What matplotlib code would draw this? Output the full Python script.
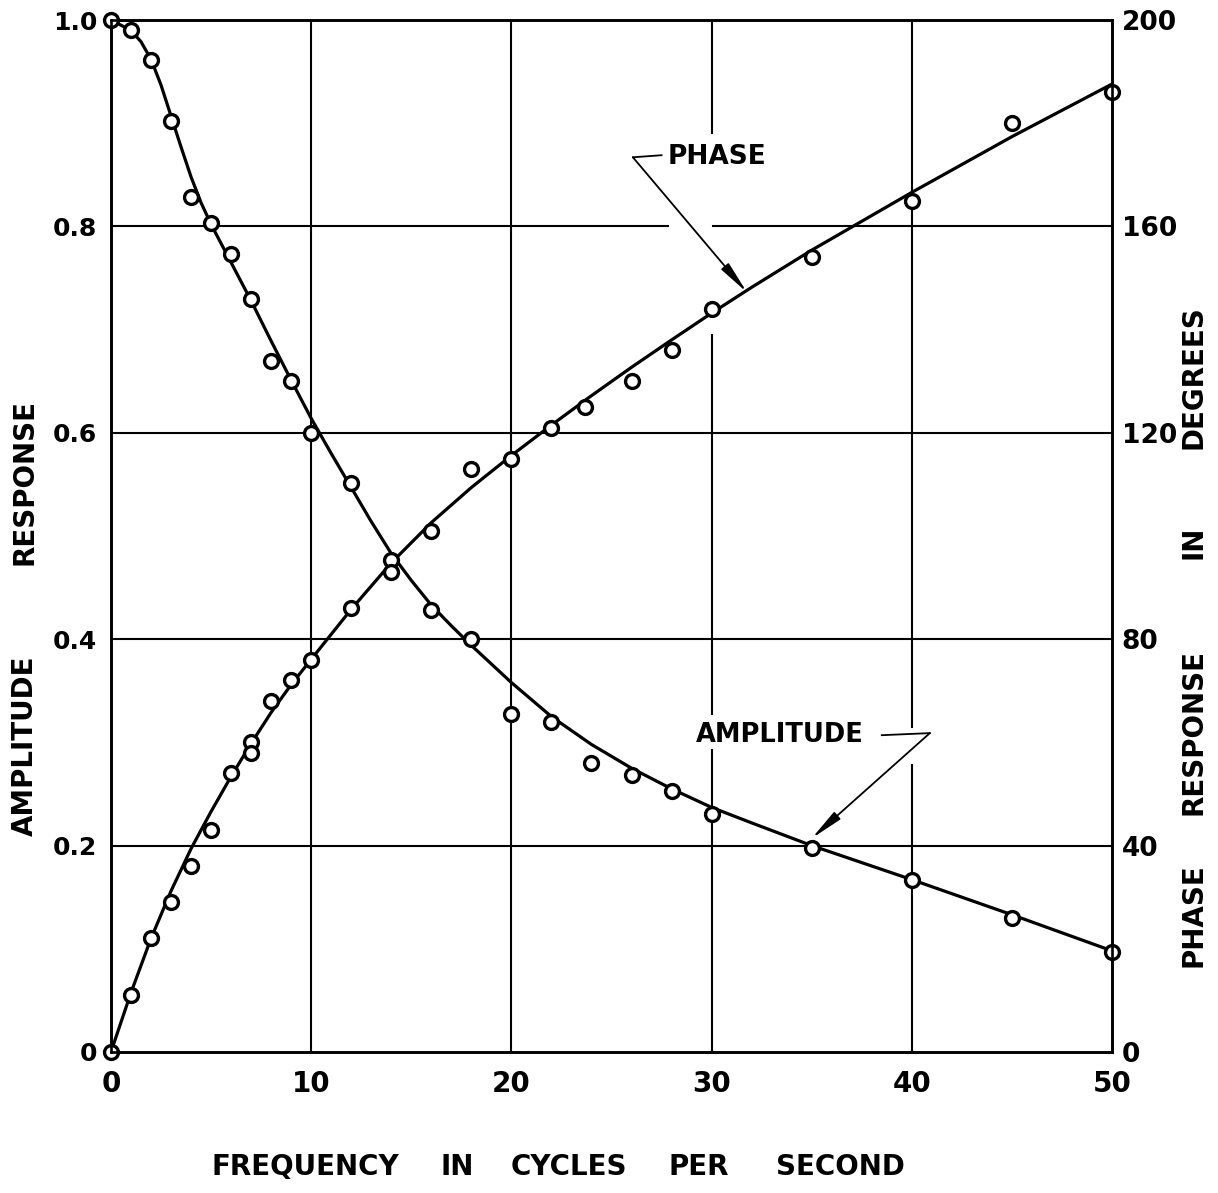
import numpy as np
import matplotlib.pyplot as plt

plt.rcParams.update({
    "font.family": "DejaVu Sans",
    "font.size": 18,
    "axes.linewidth": 1.9,
})

# measured points: amplitude response (fraction) and phase (degrees)
amp_freq = [0, 1, 2, 3, 4, 5, 6, 7, 8, 9, 10, 12, 14, 16, 18, 20, 22, 24, 26, 28, 30, 35, 40, 45, 50]
amp_vals = [1.0, 0.990, 0.961, 0.902, 0.829, 0.803, 0.773, 0.730, 0.670, 0.650, 0.600, 0.551,
            0.477, 0.428, 0.400, 0.328, 0.320, 0.280, 0.268, 0.253, 0.231, 0.198, 0.167, 0.130, 0.097]

phase_freq = [0, 1, 2, 3, 4, 5, 6, 7, 7, 8, 9, 10, 12, 14, 16, 18, 20, 22, 23.7, 26, 28, 30, 35, 40, 45, 50]
phase_vals = [0, 11, 22, 29, 36, 43, 54, 60, 58, 68, 72, 76, 86, 93, 101, 113, 115, 121, 125,
              130, 136, 144, 154, 165, 180, 186]

# faired curves drawn through the points
amp_curve_f = [0, 1, 1.5, 2, 2.5, 3, 3.5, 4, 4.5, 5, 6, 7, 8, 9, 10, 11, 12, 13, 14, 15, 16, 17,
               18, 20, 22, 24, 26, 28, 30, 32, 35, 40, 45, 50]
amp_curve = [1.0, 0.99, 0.979, 0.962, 0.937, 0.907, 0.877, 0.848, 0.823, 0.802, 0.765, 0.728,
             0.689, 0.651, 0.614, 0.580, 0.547, 0.514, 0.483, 0.457, 0.433, 0.413, 0.394, 0.358,
             0.325, 0.298, 0.275, 0.255, 0.237, 0.222, 0.200, 0.167, 0.133, 0.098]

phase_curve_f = [0, 1, 2, 3, 4, 5, 6, 7, 8, 9, 10, 12, 14, 16, 18, 20, 22, 24, 26, 28, 30, 32,
                 35, 40, 45, 50]
phase_curve = [0, 11.5, 22, 31.2, 39.4, 46.6, 53.4, 59.8, 65.8, 71.2, 76.1, 85.8, 94.8, 102.6,
               109.4, 115.6, 121.5, 127.2, 132.7, 138.0, 143.2, 148.2, 155.4, 166.6, 177.4, 187.6]

amp_ticks = [0, 0.2, 0.4, 0.6, 0.8, 1.0]
amp_ticklabels = ["0", "0.2", "0.4", "0.6", "0.8", "1.0"]
deg_ticks = [0, 40, 80, 120, 160, 200]
freq_ticks = [0, 10, 20, 30, 40, 50]

# widely spaced lettering: one word per text, positioned in figure pixels
W, H = 1218, 1193
left_words = [("AMPLITUDE", 746), ("RESPONSE", 482)]
right_words = [("PHASE", 915), ("RESPONSE", 732), ("IN", 542), ("DEGREES", 377)]
bottom_words = [("FREQUENCY", 305), ("IN", 457), ("CYCLES", 569), ("PER", 699), ("SECOND", 840)]

fig = plt.figure(figsize=(W / 100, H / 100), dpi=100)
ax = fig.add_axes([0.0911, 0.1182, 0.8219, 0.8650])
ax2 = ax.twinx()

ax.set_xlim(0, 50)
ax.set_ylim(0, 1.0)
ax2.set_ylim(0, 200)

# grid drawn by hand so it can break around the lettering
grid_kw = dict(color="black", lw=1.5, zorder=1)
vgrid = {10: [(0, 1)], 20: [(0, 1)],
         30: [(0, 0.293), (0.328, 0.695), (0.891, 1)],
         40: [(0, 0.278), (0.315, 1)]}
hgrid = {0.2: [(0, 50)], 0.4: [(0, 50)], 0.6: [(0, 50)],
         0.8: [(0, 27.8), (30.05, 50)]}
for xv, segs in vgrid.items():
    for a, b in segs:
        ax.plot([xv, xv], [a, b], **grid_kw)
for yv, segs in hgrid.items():
    for a, b in segs:
        ax.plot([a, b], [yv, yv], **grid_kw)

line_kw = dict(color="black", lw=2.3, zorder=3)
mark_kw = dict(ls="none", marker="o", ms=10, mfc="white", mec="black", mew=2.4, zorder=4,
               clip_on=False)

ax.plot(amp_curve_f, amp_curve, **line_kw)
ax.plot(phase_curve_f, phase_curve, transform=ax2.transData, **line_kw)
ax.plot(amp_freq, amp_vals, **mark_kw)
ax.plot(phase_freq, phase_vals, transform=ax2.transData, **mark_kw)

# labels with leader arrows
arrow_style = "-|>,head_length=1.1,head_width=0.16"
ax.text(27.8, 0.867, "PHASE", ha="left", va="center", fontsize=19, fontweight="bold")
ax.plot([26.07, 27.5], [0.867, 0.869], color="black", lw=1.3, zorder=2)
ax.annotate("", xy=(31.77, 0.736), xytext=(26.07, 0.867),
            arrowprops=dict(arrowstyle=arrow_style, color="black", lw=1.3, shrinkA=0, shrinkB=0))

ax.text(29.2, 0.307, "AMPLITUDE", ha="left", va="center", fontsize=18.5, fontweight="bold")
ax.plot([38.5, 40.9], [0.307, 0.309], color="black", lw=1.3, zorder=2)
ax.annotate("", xy=(35.0, 0.207), xytext=(40.9, 0.309),
            arrowprops=dict(arrowstyle=arrow_style, color="black", lw=1.3, shrinkA=0, shrinkB=0))

ax.set_xticks(freq_ticks)
ax.set_yticks(amp_ticks)
ax.set_yticklabels(amp_ticklabels)
ax2.set_yticks(deg_ticks)
ax.tick_params(axis="both", length=0)
ax.tick_params(axis="y", pad=10, labelsize=18)
ax.tick_params(axis="x", pad=13, labelsize=20)
ax2.tick_params(axis="y", length=0, labelsize=19, pad=7)
for lab in ax.get_xticklabels() + ax.get_yticklabels() + ax2.get_yticklabels():
    lab.set_fontweight("bold")

word_kw = dict(ha="center", va="center", fontsize=20, fontweight="bold")
for word, py in left_words:
    fig.text(25 / W, 1 - py / H, word, rotation=90, **word_kw)
for word, py in right_words:
    fig.text(1194 / W, 1 - py / H, word, rotation=90, **word_kw)
for word, px in bottom_words:
    fig.text(px / W, 1 - 1167 / H, word, **word_kw)

fig.savefig("out.png", dpi=100, facecolor="white")
